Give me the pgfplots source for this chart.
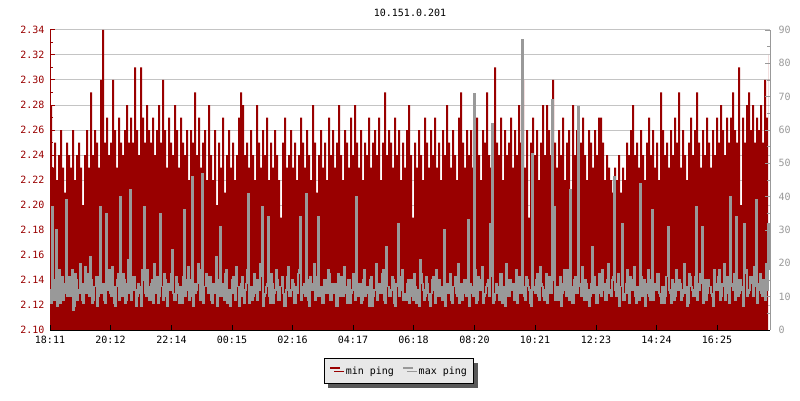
\documentclass[border=0pt]{standalone}
\usepackage{fontspec}
\setmainfont{DejaVu Sans Mono}
\usepackage{pgfplots}
\usepackage{pgfplotstable}
\pgfplotsset{compat=1.18}
\usetikzlibrary{shadows}
\definecolor{minred}{HTML}{990000}
\definecolor{maxgray}{HTML}{999999}
\definecolor{gridgray}{HTML}{C4C4C4}
\definecolor{legbg}{HTML}{E8E8E8}

% min ping: one sample every 4 minutes, 18:11 -> 18:07
\pgfplotstableread{
min
2.28
2.23
2.25
2.22
2.24
2.26
2.23
2.21
2.25
2.24
2.23
2.26
2.22
2.24
2.25
2.23
2.20
2.24
2.26
2.23
2.29
2.24
2.26
2.25
2.23
2.30
2.34
2.25
2.27
2.24
2.25
2.30
2.26
2.23
2.27
2.25
2.24
2.26
2.28
2.25
2.27
2.25
2.31
2.26
2.24
2.31
2.27
2.25
2.28
2.26
2.25
2.27
2.24
2.26
2.28
2.25
2.30
2.26
2.23
2.27
2.25
2.24
2.28
2.26
2.23
2.27
2.25
2.24
2.26
2.22
2.26
2.25
2.29
2.24
2.27
2.23
2.25
2.26
2.22
2.28
2.24
2.22
2.26
2.20
2.25
2.23
2.27
2.21
2.24
2.26
2.23
2.25
2.22
2.24
2.27
2.29
2.28
2.24
2.25
2.23
2.26
2.24
2.22
2.28
2.25
2.23
2.26
2.24
2.27
2.22
2.25
2.23
2.26
2.24
2.22
2.19
2.25
2.27
2.23
2.24
2.26
2.23
2.25
2.22
2.24
2.27
2.25
2.23
2.26
2.24
2.22
2.28
2.25
2.21
2.24
2.26
2.23
2.25
2.22
2.27
2.24
2.26
2.23
2.25
2.28
2.24
2.22
2.26
2.25
2.23
2.27
2.24
2.28
2.25
2.23
2.26
2.22
2.25
2.24
2.27
2.23
2.25
2.26
2.24
2.27
2.22
2.25
2.29
2.24
2.26
2.25
2.23
2.27
2.24
2.26
2.22
2.25
2.23
2.26
2.28
2.24
2.19
2.25
2.23
2.26
2.24
2.22
2.27
2.25
2.23
2.26
2.24
2.27
2.23
2.25
2.22
2.26
2.24
2.28
2.25
2.23
2.26
2.24
2.22
2.27
2.29
2.25
2.23
2.26
2.24
2.26
2.23
2.25
2.27
2.24
2.22
2.26
2.25
2.29
2.24
2.23
2.26
2.31
2.25
2.24
2.27
2.22
2.26
2.24
2.25
2.27
2.23
2.26
2.24
2.28
2.25
2.30
2.23
2.26
2.19
2.25
2.27
2.24
2.26
2.22
2.25
2.28
2.24
2.28
2.26
2.24
2.30
2.25
2.23
2.26
2.24
2.27
2.22
2.25
2.26
2.19
2.28
2.24
2.26
2.23
2.25
2.27
2.24
2.22
2.26
2.25
2.23
2.26
2.24
2.27
2.27
2.25
2.22
2.24
2.23
2.22
2.21
2.23
2.22
2.24
2.21
2.23
2.22
2.25
2.24
2.26
2.28
2.24
2.25
2.23
2.26
2.24
2.22
2.25
2.27
2.24
2.26
2.23
2.25
2.22
2.29
2.26
2.24
2.25
2.23
2.26
2.24
2.27
2.25
2.29
2.23
2.26
2.24
2.22
2.25
2.27
2.24
2.26
2.29
2.25
2.23
2.26
2.24
2.27
2.25
2.23
2.26
2.24
2.27
2.25
2.28
2.26
2.24
2.27
2.25
2.27
2.29
2.26
2.25
2.31
2.20
2.27
2.25
2.28
2.29
2.26
2.28
2.25
2.27
2.26
2.28
2.25
2.30
2.27
2.32
}\mindata

% max ping: one sample every 2 minutes
\pgfplotstableread[row sep=\\, header=false]{
12\\8\\37\\15\\9\\11\\30\\7\\14\\18\\8\\12\\16\\9\\11\\14\\39\\10\\13\\16\\
10\\13\\18\\6\\7\\17\\15\\9\\12\\11\\20\\14\\9\\8\\14\\19\\11\\12\\17\\10\\
22\\15\\8\\9\\13\\13\\16\\7\\10\\16\\37\\11\\12\\14\\9\\8\\35\\12\\14\\18\\
11\\10\\19\\13\\8\\7\\13\\15\\17\\9\\40\\12\\10\\17\\15\\8\\9\\14\\21\\11\\
42\\9\\12\\16\\16\\12\\7\\10\\14\\13\\11\\7\\18\\15\\37\\11\\10\\18\\13\\9\\
9\\14\\15\\8\\20\\12\\11\\16\\8\\10\\35\\13\\13\\9\\17\\15\\10\\7\\14\\12\\
12\\17\\24\\11\\9\\9\\16\\14\\11\\8\\13\\13\\8\\16\\36\\10\\15\\12\\19\\9\\
10\\15\\46\\7\\14\\11\\12\\14\\20\\18\\9\\10\\47\\8\\13\\13\\17\\16\\11\\12\\
16\\9\\8\\14\\12\\11\\22\\7\\10\\15\\31\\10\\14\\13\\9\\17\\18\\8\\12\\12\\
7\\11\\15\\16\\11\\9\\19\\13\\13\\7\\10\\14\\16\\10\\8\\12\\14\\18\\41\\8\\
12\\13\\9\\10\\17\\15\\11\\9\\15\\12\\20\\16\\37\\7\\10\\11\\13\\14\\34\\10\\
8\\17\\14\\8\\11\\12\\18\\15\\9\\9\\13\\13\\16\\11\\7\\7\\12\\16\\19\\10\\
10\\12\\15\\14\\8\\8\\13\\11\\17\\18\\34\\9\\11\\13\\14\\10\\41\\15\\9\\7\\
16\\14\\12\\12\\20\\9\\10\\16\\34\\10\\13\\13\\8\\8\\15\\15\\11\\11\\18\\17\\
9\\9\\14\\11\\12\\14\\7\\7\\17\\12\\10\\16\\13\\10\\19\\13\\11\\8\\15\\15\\
8\\11\\12\\17\\16\\9\\40\\12\\10\\14\\14\\8\\9\\15\\18\\10\\13\\13\\11\\7\\
15\\16\\7\\10\\12\\12\\20\\9\\11\\14\\14\\11\\17\\18\\9\\8\\25\\13\\13\\10\\
10\\12\\16\\15\\8\\7\\14\\13\\32\\10\\12\\16\\18\\9\\11\\11\\9\\14\\15\\8\\
13\\15\\10\\9\\17\\13\\8\\11\\12\\7\\21\\17\\14\\12\\9\\10\\16\\14\\11\\9\\
7\\11\\15\\16\\12\\8\\18\\12\\10\\15\\13\\10\\9\\13\\30\\7\\14\\14\\11\\12\\
17\\9\\8\\13\\13\\16\\11\\10\\20\\8\\12\\14\\9\\11\\15\\15\\10\\12\\33\\7\\
14\\13\\11\\10\\71\\18\\8\\9\\16\\12\\12\\15\\19\\8\\10\\11\\13\\14\\15\\10\\
32\\16\\62\\8\\9\\11\\14\\13\\11\\9\\17\\17\\8\\12\\13\\7\\20\\15\\10\\10\\
15\\12\\12\\14\\9\\10\\18\\8\\11\\16\\14\\11\\87\\13\\10\\9\\16\\15\\13\\12\\
8\\7\\53\\13\\12\\11\\15\\17\\10\\9\\19\\14\\13\\10\\9\\12\\17\\8\\11\\16\\
14\\11\\69\\15\\37\\9\\12\\13\\9\\10\\16\\7\\11\\14\\18\\12\\10\\18\\13\\9\\
42\\13\\8\\8\\15\\16\\11\\11\\67\\14\\13\\10\\19\\12\\9\\15\\14\\9\\12\\7\\
10\\14\\25\\11\\16\\13\\8\\8\\13\\17\\11\\10\\18\\12\\14\\9\\9\\15\\20\\11\\
12\\10\\15\\16\\46\\12\\10\\14\\17\\7\\13\\13\\32\\9\\9\\11\\14\\18\\11\\8\\
16\\12\\12\\15\\19\\10\\8\\13\\13\\9\\44\\16\\10\\11\\15\\7\\11\\14\\18\\10\\
9\\15\\36\\9\\14\\12\\12\\17\\17\\11\\10\\8\\13\\13\\8\\10\\16\\16\\31\\12\\
11\\8\\15\\14\\9\\10\\18\\13\\12\\15\\14\\9\\10\\12\\20\\11\\13\\7\\8\\17\\
16\\13\\12\\10\\10\\16\\37\\9\\14\\12\\17\\14\\31\\8\\11\\15\\9\\11\\15\\13\\
13\\11\\10\\7\\18\\14\\12\\12\\16\\18\\9\\10\\14\\13\\20\\9\\11\\16\\15\\8\\
40\\14\\13\\12\\17\\9\\34\\15\\10\\11\\15\\13\\12\\7\\32\\17\\18\\10\\11\\12\\
16\\16\\14\\10\\19\\13\\39\\8\\12\\14\\17\\11\\10\\15\\15\\9\\20\\12\\32\\18\\
}\maxdata

\begin{document}
\begin{tikzpicture}[font=\fontsize{10}{12}\selectfont]
\path[use as bounding box] (0pt,0pt) rectangle (800pt,400pt);
% left axis: min ping
\begin{axis}[
    at={(50pt,70pt)}, anchor=south west,
    scale only axis, width=720pt, height=300pt,
    xmin=0, xmax=1440, ymin=2.10, ymax=2.34,
    axis x line=none, axis y line*=left,
    xtick=\empty,
    ytick={2.10,2.12,...,2.345},
    minor y tick num=1,
    ymajorgrids, grid style={gridgray, line width=1pt},
    tick align=inside,
    major tick length=5pt, minor tick length=3pt,
    y axis line style={minred, line width=1pt, -},
    ytick style={minred, line width=1pt},
    yticklabel style={minred, xshift=-2pt},
    yticklabel={\pgfmathprintnumber[fixed, fixed zerofill, precision=2, assume math mode=true]{\tick}},
    title={10.151.0.201},
    title style={at={(axis description cs:0.5,1)}, anchor=center, yshift=11pt, inner sep=0pt},
]
\addplot[draw=none, fill=minred, const plot]
    table[x expr=\coordindex*4, y index=0] {\mindata} \closedcycle;
\end{axis}
% right axis: max ping, drawn on top
\begin{axis}[
    at={(50pt,70pt)}, anchor=south west,
    scale only axis, width=720pt, height=300pt,
    xmin=0, xmax=1440, ymin=0, ymax=90,
    axis on top,
    axis x line*=bottom, axis y line*=right,
    xtick={0,121,243,364,485,606,727,849,970,1092,1213,1334},
    xticklabels={18:11,20:12,22:14,00:15,02:16,04:17,06:18,08:20,10:21,12:23,14:24,16:25},
    ytick={0,10,...,90},
    minor y tick num=1,
    tick align=inside,
    major tick length=5pt, minor tick length=3pt,
    x axis line style={black, line width=1pt, -},
    y axis line style={maxgray, line width=1pt, -},
    xtick style={black, line width=1pt},
    ytick style={maxgray, line width=1pt},
    yticklabel style={maxgray, xshift=5pt},
    xticklabel style={black, yshift=-3pt},
    /pgf/number format/assume math mode=true,
    legend columns=2,
    legend image code/.code={%
        \draw[#1, line width=2.5pt] (0pt,0.32em) -- (10pt,0.32em);
        \path (13pt,0.32em);},
    legend style={
        at={(axis description cs:0.4847,-0.137)}, anchor=center,
        draw=black, line width=1pt, fill=legbg,
        drop shadow={shadow xshift=4pt, shadow yshift=-4pt, fill=black!65, opacity=1},
        inner xsep=5pt, inner ysep=6pt,
        font=\fontsize{10}{12}\selectfont,
        /tikz/every even column/.append style={column sep=6pt},
        legend cell align=left,
    },
]
\addlegendimage{minred}
\addlegendentry{min ping}
\addlegendimage{maxgray}
\addlegendentry{max ping}
\addplot[maxgray, line width=1.2pt, const plot, forget plot]
    table[x expr=\coordindex*2, y index=0] {\maxdata};
\end{axis}
\end{tikzpicture}
\end{document}
